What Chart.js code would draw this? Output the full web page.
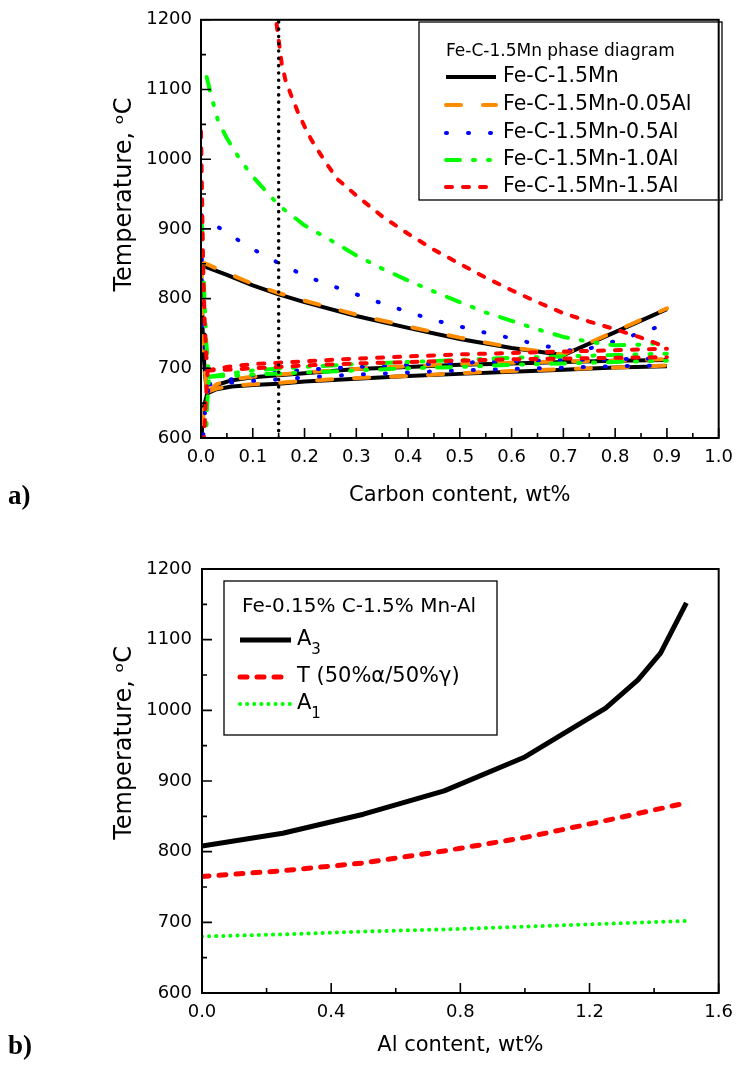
<!DOCTYPE html>
<html><head><meta charset="utf-8">
<script src="https://cdn.jsdelivr.net/npm/chart.js@4.4.0/dist/chart.umd.min.js"></script>
<style>
html,body{margin:0;padding:0;background:#fff;width:742px;height:1070px;overflow:hidden;position:relative}
canvas{position:absolute;left:0}
#c1{top:0}#c2{top:540px}
.lab{position:absolute;font-family:"Liberation Serif","Times New Roman",serif;font-weight:bold;font-size:27px;line-height:30px;color:#000}
</style></head><body>
<canvas id="c1" width="742" height="530"></canvas>
<canvas id="c2" width="742" height="530"></canvas>
<div class="lab" style="left:8px;top:480px">a)</div>
<div class="lab" style="left:8px;top:1030px">b)</div>
<script>
// ---------------- DATA ----------------
// panel a) tick values and labels
const topXTicks = [0,0.1,0.2,0.3,0.4,0.5,0.6,0.7,0.8,0.9,1.0];
const topXTickLabels = ['0.0','0.1','0.2','0.3','0.4','0.5','0.6','0.7','0.8','0.9','1.0'];
const topYTicks = [600,700,800,900,1000,1100,1200];
const topYTickLabels = ['600','700','800','900','1000','1100','1200'];
const topLegendTitle = 'Fe-C-1.5Mn phase diagram';
const topSeriesNames = ['Fe-C-1.5Mn','Fe-C-1.5Mn-0.05Al','Fe-C-1.5Mn-0.5Al','Fe-C-1.5Mn-1.0Al','Fe-C-1.5Mn-1.5Al'];

// [carbon wt%, temperature C]
// Fe-C-1.5Mn
const mn0_A3 = [[0,848],[0.05,834],[0.1,819],[0.15,806],[0.2,795],[0.3,775],[0.4,758],[0.5,742],[0.6,729],[0.7,719],[0.8,752],[0.9,785]];
const mn0_alpha = [[0,848],[0.002,790],[0.004,730],[0.008,690],[0.012,664],[0.004,640],[0.001,600]];
const mn0_upper = [[0.012,664],[0.03,676],[0.06,683],[0.1,687],[0.15,690],[0.2,693],[0.3,699],[0.4,702],[0.5,705],[0.6,707],[0.7,709],[0.8,711],[0.9,712]];
const mn0_lower = [[0.012,664],[0.03,670],[0.06,674],[0.1,676],[0.15,678],[0.2,681],[0.3,685],[0.4,689],[0.5,692],[0.6,695],[0.7,698],[0.8,701],[0.9,703]];
// Fe-C-1.5Mn-0.05Al
const al005_A3 = [[0,853],[0.05,837],[0.1,821],[0.15,808],[0.2,797],[0.3,777],[0.4,760],[0.5,744],[0.6,730],[0.7,720],[0.8,753],[0.9,786]];
const al005_alpha = [[0,853],[0.002,795],[0.004,735],[0.008,692],[0.012,666],[0.005,640],[0.002,600]];
const al005_upper = [[0.012,666],[0.03,677],[0.06,684],[0.1,688],[0.15,691],[0.2,694],[0.3,699],[0.4,703],[0.5,706],[0.6,708],[0.7,710],[0.8,711],[0.9,713]];
const al005_lower = [[0.012,666],[0.03,671],[0.06,675],[0.1,677],[0.15,679],[0.2,682],[0.3,686],[0.4,689],[0.5,693],[0.6,696],[0.7,699],[0.8,701],[0.9,704]];
// Fe-C-1.5Mn-0.5Al
const al05_A3 = [[0,920],[0.05,894],[0.1,871],[0.15,851],[0.2,833],[0.25,819],[0.3,806],[0.35,793],[0.4,781],[0.45,769],[0.5,760],[0.55,751],[0.6,743],[0.65,734],[0.7,727],[0.73,724],[0.8,739],[0.85,751],[0.9,764]];
const al05_alpha = [[0,920],[0.002,840],[0.004,770],[0.008,720],[0.012,690],[0.016,677],[0.008,640],[0.004,600]];
const al05_upper = [[0.016,677],[0.05,683],[0.1,690],[0.15,694],[0.2,698],[0.3,702],[0.4,705],[0.5,708],[0.6,710],[0.7,712],[0.8,713],[0.9,714]];
const al05_lower = [[0.016,677],[0.05,679],[0.1,682],[0.15,684],[0.2,687],[0.3,691],[0.4,694],[0.5,697],[0.6,699],[0.7,701],[0.8,703],[0.9,704]];
// Fe-C-1.5Mn-1.0Al
const al10_A3 = [[0.011,1118],[0.02,1090],[0.033,1055],[0.05,1030],[0.075,1000],[0.1,975],[0.15,934],[0.2,905],[0.25,884],[0.3,862],[0.35,843],[0.4,826],[0.45,810],[0.5,795],[0.55,780],[0.6,768],[0.65,756],[0.7,745],[0.75,738],[0.8,733],[0.85,734],[0.9,737]];
const al10_alpha = [[0.002,905],[0.004,860],[0.006,815],[0.01,740],[0.014,700],[0.016,688],[0.012,650],[0.01,600]];
const al10_upper = [[0.016,688],[0.05,692],[0.1,697],[0.2,702],[0.3,706],[0.4,709],[0.5,712],[0.6,715],[0.7,717],[0.8,719],[0.9,721]];
const al10_lower = [[0.016,688],[0.05,689],[0.1,691],[0.2,694],[0.3,697],[0.4,700],[0.5,702],[0.6,705],[0.7,707],[0.8,709],[0.9,711]];
// Fe-C-1.5Mn-1.5Al
const al15_A3 = [[0.146,1194],[0.156,1137],[0.163,1114],[0.175,1090],[0.188,1066],[0.2,1047],[0.213,1028],[0.23,1008],[0.245,991],[0.264,971],[0.3,948],[0.35,918],[0.4,893],[0.45,870],[0.5,850],[0.55,830],[0.6,812],[0.65,795],[0.7,779],[0.75,767],[0.8,756],[0.85,744],[0.9,730]];
const al15_alpha = [[0,1040],[0.002,950],[0.004,850],[0.007,770],[0.01,720],[0.013,697],[0.009,650],[0.006,600]];
const al15_upper = [[0.013,697],[0.05,702],[0.1,706],[0.2,710],[0.3,714],[0.4,717],[0.5,720],[0.6,722],[0.7,724],[0.8,726],[0.9,728]];
const al15_lower = [[0.013,697],[0.05,698],[0.1,700],[0.2,704],[0.3,707],[0.4,709],[0.5,711],[0.6,713],[0.7,714],[0.8,715],[0.9,716]];
// 0.15 %C reference line
const refCarbon = [[0.15,600],[0.15,1200]];

// panel b)
const botXTicks = [0,0.4,0.8,1.2,1.6];
const botXTickLabels = ['0.0','0.4','0.8','1.2','1.6'];
const botYTicks = [600,700,800,900,1000,1100,1200];
const botYTickLabels = ['600','700','800','900','1000','1100','1200'];
const botLegendTitle = 'Fe-0.15% C-1.5% Mn-Al';
const botSeriesNames = ['A\u2083','T (50%\u03b1/50%\u03b3)','A\u2081'];
const alA3 = [0,0.25,0.5,0.75,1.0,1.25,1.35,1.42,1.5];
const tA3 = [808,826,853,886,934,1003,1043,1081,1152];
const alT50 = [0,0.25,0.5,0.75,1.0,1.25,1.48];
const tT50 = [765,773,784,801,820,844,867];
const alA1 = [0,0.25,0.5,0.75,1.0,1.25,1.5];
const tA1 = [680,683,687,690,694,698,702];

// ---------------- STYLE ----------------
Chart.defaults.font.family = '"DejaVu Sans", sans-serif';
Chart.defaults.color = '#000';
const FONT = '"DejaVu Sans", sans-serif';

const topStyles = [
  {color:'#000000', width:4, dash:[], cap:'butt'},
  {color:'#ff8c00', width:4, dash:[15,22], cap:'round'},
  {color:'#0000ff', width:4, dash:[1,21], cap:'round'},
  {color:'#00ff00', width:4, dash:[14,13,2,13,2,13], cap:'round'},
  {color:'#ff0000', width:4, dash:[6,11], cap:'round'}
];
const botStyles = [
  {color:'#000000', width:5, dash:[], cap:'butt'},
  {color:'#ff0000', width:5, dash:[7,10], cap:'round'},
  {color:'#00ff00', width:4, dash:[0.1,7], cap:'round'}
];

function ds(points, st, label, order) {
  return {label, data: points.map(p => ({x:p[0], y:p[1]})), borderColor: st.color, backgroundColor: st.color,
    borderWidth: st.width, borderDash: st.dash, borderCapStyle: st.cap, borderJoinStyle: 'round',
    pointRadius: 0, pointHoverRadius: 0, fill: false, tension: 0, order};
}
function zip(xs, ys) { return xs.map((v, i) => [v, ys[i]]); }

function drawRich(ctx, text, x, y, font, subFont, subDy) {
  const subs = '\u2080\u2081\u2082\u2083\u2084\u2085\u2086\u2087\u2088\u2089';
  const runs = []; let cur = null;
  for (const ch of text) {
    const k = subs.indexOf(ch);
    const isSub = k >= 0;
    const c = isSub ? String(k) : ch;
    if (cur && cur.sub === isSub) cur.t += c; else { cur = {sub: isSub, t: c}; runs.push(cur); }
  }
  let cx = x;
  runs.forEach(r => {
    ctx.font = r.sub ? subFont : font;
    ctx.fillText(r.t, cx, r.sub ? y + subDy : y);
    cx += ctx.measureText(r.t).width;
  });
}

const frameTicks = {
  id: 'frameTicks',
  afterDraw(chart, args, o) {
    const {ctx, chartArea: a, scales: {x, y}} = chart;
    ctx.save();
    ctx.strokeStyle = '#000'; ctx.lineWidth = 1.6; ctx.setLineDash([]);
    ctx.beginPath();
    o.xMajor.forEach(v => { const p = x.getPixelForValue(v); ctx.moveTo(p, a.bottom); ctx.lineTo(p, a.bottom - 10); });
    o.xMinor.forEach(v => { const p = x.getPixelForValue(v); ctx.moveTo(p, a.bottom); ctx.lineTo(p, a.bottom - 5); });
    o.yMajor.forEach(v => { const p = y.getPixelForValue(v); ctx.moveTo(a.left, p); ctx.lineTo(a.left + 10, p); });
    o.yMinor.forEach(v => { const p = y.getPixelForValue(v); ctx.moveTo(a.left, p); ctx.lineTo(a.left + 5, p); });
    ctx.stroke();
    ctx.lineWidth = 2;
    ctx.strokeRect(a.left, a.top, a.right - a.left, a.bottom - a.top);
    ctx.restore();
  }
};

const boxLegend = {
  id: 'boxLegend',
  afterDraw(chart, args, o) {
    const ctx = chart.ctx;
    ctx.save();
    ctx.setLineDash([]);
    ctx.strokeStyle = '#000'; ctx.lineWidth = 1.3;
    ctx.strokeRect(o.box[0], o.box[1], o.box[2] - o.box[0], o.box[3] - o.box[1]);
    ctx.fillStyle = '#000'; ctx.textBaseline = 'middle'; ctx.textAlign = 'left';
    ctx.font = o.titleFont;
    ctx.fillText(o.title, o.titleX, o.titleY);
    o.names.forEach((name, i) => {
      const st = o.styles[i];
      ctx.beginPath();
      ctx.strokeStyle = st.color; ctx.lineWidth = st.width; ctx.setLineDash(st.dash); ctx.lineCap = st.cap;
      ctx.moveTo(o.lineX0, o.ys[i]); ctx.lineTo(o.lineX1, o.ys[i]); ctx.stroke();
      ctx.setLineDash([]);
      ctx.fillStyle = '#000';
      drawRich(ctx, name, o.textX, o.ys[i] + (o.textDy || 0), o.font, o.subFont || o.font, o.subDy || 0);
    });
    ctx.restore();
  }
};

function mids(arr) { const r = []; for (let i = 0; i < arr.length - 1; i++) r.push((arr[i] + arr[i+1]) / 2); return r; }

// ---------------- PANEL a) ----------------
const topSets = [
  [mn0_A3, mn0_alpha, mn0_upper, mn0_lower],
  [al005_A3, al005_alpha, al005_upper, al005_lower],
  [al05_A3, al05_alpha, al05_upper, al05_lower],
  [al10_A3, al10_alpha, al10_upper, al10_lower],
  [al15_A3, al15_alpha, al15_upper, al15_lower]
];
const topDatasets = [];
topSets.forEach((curves, i) => {
  curves.forEach((c, j) => topDatasets.push(ds(c, topStyles[i], j === 0 ? topSeriesNames[i] : '', 10 - i)));
});
topDatasets.push(ds(refCarbon, {color:'#000', width:3.5, dash:[0.1,7.2], cap:'round'}, '', 0));

new Chart(document.getElementById('c1'), {
  type: 'line',
  data: {datasets: topDatasets},
  options: {
    responsive: false, animation: false, devicePixelRatio: 1,
    layout: {padding: {top: 16, right: 16, left: 0, bottom: 0}},
    plugins: {
      legend: {display: false}, tooltip: {enabled: false},
      frameTicks: {xMajor: topXTicks, xMinor: mids(topXTicks), yMajor: topYTicks, yMinor: mids(topYTicks)},
      boxLegend: {box: [419, 22, 722, 200], title: topLegendTitle, titleFont: '17px ' + FONT, titleX: 446, titleY: 52,
        names: topSeriesNames, styles: topStyles, ys: [77, 105, 133, 160, 187], lineX0: 446, lineX1: 496, textX: 503,
        font: '20.5px ' + FONT}
    },
    scales: {
      x: {type: 'linear', min: 0, max: 1,
        afterBuildTicks: s => { s.ticks = topXTicks.map(v => ({value: v})); },
        afterFit: s => { s.height = 92; },
        grid: {display: false, drawTicks: false}, border: {display: false},
        ticks: {autoSkip: false, maxRotation: 0, padding: 9, font: {size: 18}, callback: (v, i) => topXTickLabels[i]},
        title: {display: true, text: 'Carbon content, wt%', font: {size: 21}, padding: {top: 0, bottom: 22}}},
      y: {type: 'linear', min: 600, max: 1200,
        afterBuildTicks: s => { s.ticks = topYTicks.map(v => ({value: v})); },
        afterFit: s => { s.width = 201; },
        grid: {display: false, drawTicks: false}, border: {display: false},
        ticks: {autoSkip: false, padding: 9, font: {size: 18}, callback: (v, i) => topYTickLabels[i]},
        title: {display: true, text: '         Temperature, \u1d52C', font: {size: 24}, padding: {top: 110, bottom: 0}}}
    }
  },
  plugins: [frameTicks, boxLegend]
});

// ---------------- PANEL b) ----------------
const botDatasets = [
  ds(zip(alA3, tA3), botStyles[0], botSeriesNames[0], 3),
  ds(zip(alT50, tT50), botStyles[1], botSeriesNames[1], 2),
  ds(zip(alA1, tA1), botStyles[2], botSeriesNames[2], 1)
];
new Chart(document.getElementById('c2'), {
  type: 'line',
  data: {datasets: botDatasets},
  options: {
    responsive: false, animation: false, devicePixelRatio: 1,
    layout: {padding: {top: 29, right: 16, left: 0, bottom: 0}},
    plugins: {
      legend: {display: false}, tooltip: {enabled: false},
      frameTicks: {xMajor: botXTicks, xMinor: mids(botXTicks), yMajor: botYTicks, yMinor: mids(botYTicks)},
      boxLegend: {box: [224, 41, 497, 195], title: botLegendTitle, titleFont: '20px ' + FONT, titleX: 242, titleY: 67,
        names: botSeriesNames, styles: botStyles, ys: [100, 137, 164], lineX0: 240, lineX1: 291, textX: 297,
        font: '21px ' + FONT, subFont: '15px ' + FONT, subDy: 10}
    },
    scales: {
      x: {type: 'linear', min: 0, max: 1.6,
        afterBuildTicks: s => { s.ticks = botXTicks.map(v => ({value: v})); },
        afterFit: s => { s.height = 77; },
        grid: {display: false, drawTicks: false}, border: {display: false},
        ticks: {autoSkip: false, maxRotation: 0, padding: 9, font: {size: 18}, callback: (v, i) => botXTickLabels[i]},
        title: {display: true, text: 'Al content, wt%', font: {size: 21}, padding: {top: 0, bottom: 12}}},
      y: {type: 'linear', min: 600, max: 1200,
        afterBuildTicks: s => { s.ticks = botYTicks.map(v => ({value: v})); },
        afterFit: s => { s.width = 202; },
        grid: {display: false, drawTicks: false}, border: {display: false},
        ticks: {autoSkip: false, padding: 10, font: {size: 18}, callback: (v, i) => botYTickLabels[i]},
        title: {display: true, text: '          Temperature, \u1d52C', font: {size: 24}, padding: {top: 110, bottom: 0}}}
    }
  },
  plugins: [frameTicks, boxLegend]
});
</script>
</body></html>
